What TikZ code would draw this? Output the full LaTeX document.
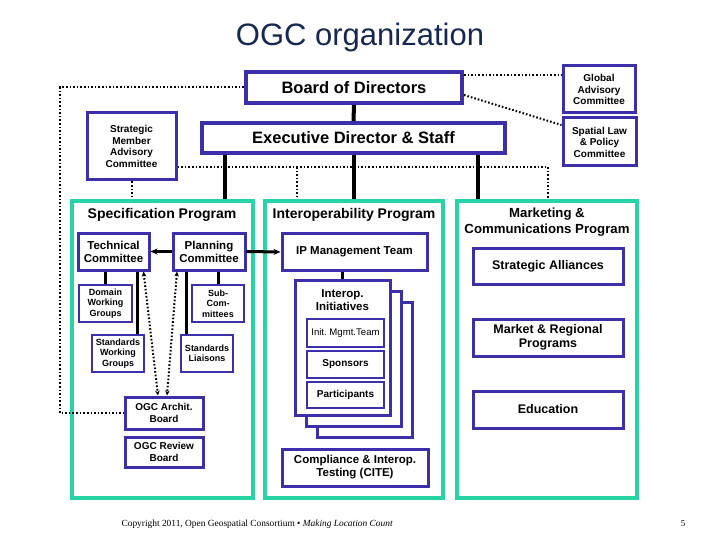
\documentclass[tikz,border=0pt]{standalone}
\usepackage{fontspec}
\setmainfont{Liberation Sans}
\newfontfamily\footfont{Liberation Serif}
\usetikzlibrary{arrows.meta}
\frenchspacing
\definecolor{ogcnavy}{RGB}{22,40,82}
\definecolor{boxblue}{RGB}{60,48,170}
\definecolor{progteal}{RGB}{40,212,166}
\tikzset{
  sz/.style 2 args = {minimum width=#1pt,minimum height=#2pt},
  orgbox/.style    = {draw=boxblue,line width=3pt,fill=white,inner sep=1pt,align=center,
                      font=\bfseries\fontsize{11.5}{13}\selectfont},
  bigbox/.style    = {orgbox,line width=4pt,font=\bfseries\fontsize{16.5}{18}\selectfont},
  sidebox/.style   = {orgbox,font=\bfseries\fontsize{10}{11.5}\selectfont},
  smallbox/.style  = {orgbox,line width=2.5pt,font=\bfseries\fontsize{9}{10.5}\selectfont},
  progbox/.style   = {draw=progteal,line width=4pt},
  progtitle/.style = {font=\bfseries\fontsize{14}{16}\selectfont,align=center},
  link/.style      = {line width=3pt},
  toplink/.style   = {line width=4pt},
  dotline/.style   = {line width=2pt,dash pattern=on 1.6pt off 2pt},
  tip/.style       = {-{Stealth[length=7pt,width=6pt]},link},
  dottip/.style    = {{Stealth[length=5pt,width=4.5pt]}-{Stealth[length=5pt,width=4.5pt]},dotline}
}

\begin{document}
\begin{tikzpicture}[x=1pt,y=-1pt]
  \useasboundingbox (0,0) rectangle (720,540);
  \node[font=\fontsize{31}{34}\selectfont,text=ogcnavy] (title) at (360,37) {OGC organization};

  % top of the organisation
  \node[bigbox,sz={216}{31}]  (board) at (354,87.5)  {Board of Directors};
  \node[bigbox,sz={303}{30}]  (exec)  at (353.5,138) {Executive Director \& Staff};
  \node[sidebox,sz={89}{67}]  (smac)  at (131.5,146.5) {Strategic\\Member\\Advisory\\Committee};
  \node[sidebox,sz={72}{47}]  (glob)  at (599,89.5) {Global\\Advisory\\Committee};
  \node[sidebox,sz={73}{48}]  (slpc)  at (599.5,142) {Spatial Law\\\& Policy\\Committee};

  % the three programs
  \node[progbox,sz={181}{297}] (spec) at (162.5,349.5) {};
  \node[progbox,sz={178}{297}] (iop)  at (354,349.5) {};
  \node[progbox,sz={180}{297}] (mktg) at (547,349.5) {};
  \node[progtitle] (spectitle) at (162,215) {Specification Program};
  \node[progtitle] (ioptitle)  at (354,215) {Interoperability Program};
  \node[progtitle,font=\bfseries\fontsize{13.2}{15.5}\selectfont] (mktgtitle) at (547,222) {Marketing \&\\Communications Program};

  % specification program
  \node[orgbox,sz={71}{37}]   (tech)   at (113.5,251.5) {Technical\\Committee};
  \node[orgbox,sz={72}{37}]   (plan)   at (209,251.5)   {Planning\\Committee};
  \node[smallbox,sz={53}{37}] (domain) at (105.5,303.5) {Domain\\Working\\Groups};
  \node[smallbox,sz={52}{37}] (swg)    at (118,353.5)   {Standards\\Working\\Groups};
  \node[smallbox,sz={52}{37}] (subcom) at (218,303.5)   {Sub-\\Com-\\mittees};
  \node[smallbox,sz={52}{37}] (liais)  at (207,353.5)   {Standards\\Liaisons};
  \node[sidebox,sz={78}{32}]  (archit) at (164,413)     {OGC Archit.\\Board};
  \node[sidebox,sz={78}{30}]  (review) at (164,452)     {OGC Review\\Board};

  % interoperability program
  \node[orgbox,sz={145}{37}] (ipm)  at (354.5,252) {IP Management Team};
  \node[orgbox,sz={95}{135}] (iic)  at (364.5,369.5) {};
  \node[orgbox,sz={95}{135}] (iib)  at (353.5,358.5) {};
  \node[orgbox,sz={95}{135}] (iia)  at (342.5,347.5) {};
  \node[progtitle,font=\bfseries\fontsize{11.5}{13}\selectfont] (iititle) at (342.5,300) {Interop.\\Initiatives};
  \node[smallbox,sz={77}{28},font=\fontsize{9.6}{11}\selectfont] (imt) at (345.5,333) {Init. Mgmt.Team};
  \node[smallbox,sz={77}{27},font=\bfseries\fontsize{10}{11}\selectfont]  (spons) at (345.5,364.5) {Sponsors};
  \node[smallbox,sz={77}{26},font=\bfseries\fontsize{10}{11}\selectfont]  (parts) at (345.5,395) {Participants};
  \node[orgbox,sz={146}{37}] (cite) at (355,467.5) {Compliance \& Interop.\\Testing (CITE)};

  % marketing & communications program
  \node[orgbox,sz={150}{36},font=\bfseries\fontsize{12.5}{14}\selectfont] (alli) at (548,266)   {Strategic Alliances};
  \node[orgbox,sz={150}{37},font=\bfseries\fontsize{12.5}{14}\selectfont] (mrp)  at (548,337.5) {Market \& Regional\\Programs};
  \node[orgbox,sz={150}{37},font=\bfseries\fontsize{12.5}{14}\selectfont] (edu)  at (548,409.5) {Education};

  % solid reporting lines
  \coordinate (specdrop) at (225,0);
  \coordinate (mktgdrop) at (478,0);
  \draw[toplink] (board.south) -- (exec.north);
  \draw[toplink] (exec.south -| specdrop) -- (spec.north -| specdrop);
  \draw[toplink] (exec.south -| iop.north) -- (iop.north);
  \draw[toplink] (exec.south -| mktgdrop) -- (mktg.north -| mktgdrop);
  \draw[link] (tech.south -| domain.north) -- (domain.north);
  \draw[link] ([xshift=19]swg.north |- tech.south) -- ([xshift=19]swg.north);
  \draw[link] (plan.south -| subcom.north) -- (subcom.north);
  \draw[link] ([xshift=-21]liais.north |- plan.south) -- ([xshift=-21]liais.north);
  \draw[link] (ipm.south -| iia.north) -- (iia.north);
  \draw[tip] (plan.west) -- (tech.east);
  \draw[tip] (plan.east) -- (ipm.west);

  % dotted advisory lines
  \coordinate (advbus) at (548,167);
  \coordinate (iotap)  at (297,167);
  \draw[dotline] (smac.east |- advbus) -- (advbus) -- (advbus |- mktg.north);
  \draw[dotline] (iotap) -- (iop.north -| iotap);
  \draw[dotline] (smac.south) -- (spec.north -| smac.south);
  \draw[dotline] (board.west) -- ++(-184,0) |- (archit.west);
  \draw[dotline] ([yshift=12.5]board.east) -- ([yshift=12.5]board.east -| glob.west);
  \draw[dotline] ([yshift=-7.5]board.east) -- ([yshift=17]slpc.west);
  \draw[dottip] ([xshift=30]tech.south) -- ([xshift=-6]archit.north);
  \draw[dottip] ([xshift=-32]plan.south) -- ([xshift=3]archit.north);

  % footer
  \node[font=\footfont\fontsize{9.4}{11}\selectfont,anchor=west] (foot) at (118,524)
    {Copyright 2011, Open Geospatial Consortium • \textit{Making Location Count}};
  \node[font=\footfont\fontsize{9}{11}\selectfont] (pageno) at (683,524) {5};
\end{tikzpicture}
\end{document}
